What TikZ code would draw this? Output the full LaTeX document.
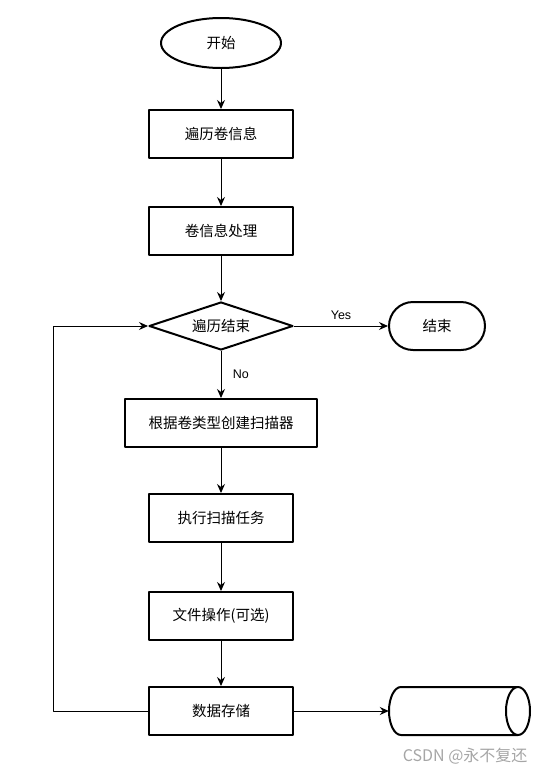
\documentclass[tikz,border=0pt]{standalone}
\usepackage{fontspec}
\setmainfont{Liberation Sans}
\newfontfamily\cjk{Noto Sans CJK SC}
\usetikzlibrary{shapes.geometric,arrows.meta}
\tikzset{
  box/.style={draw,line width=2pt,minimum width=144pt,minimum height=48pt,font=\cjk\fontsize{14.5pt}{17pt}\selectfont},
  term/.style={box,ellipse,minimum width=120pt,minimum height=50pt},
  stopbox/.style={box,rounded corners=24pt,minimum width=96pt},
  test/.style={box,diamond,aspect=3,inner sep=0pt,minimum height=48pt},
  line/.style={line width=1pt,->}
}
\begin{document}
\begin{tikzpicture}[x=1pt,y=-1pt,line join=round,>={Stealth[length=9pt,width=8pt,inset=3pt]}]
				\useasboundingbox (0,0) rectangle (544,774);
				\node[term] (start) at (221,43) {开始};
				\node[box] (trav) at (221,134) {遍历卷信息};
				\node[box] (proc) at (221,231) {卷信息处理};
				\node[test] (check) at (221,326) {遍历结束};
				\node[stopbox] (stop) at (437,326) {结束};
				\node[box,minimum width=192pt] (scan) at (221,423) {根据卷类型创建扫描器};
				\node[box] (exec) at (221,518) {执行扫描任务};
				\node[box] (file) at (221,616) {文件操作(可选)};
				\node[box] (store) at (221,711) {数据存储};
				% storage drum
				\node[minimum width=141pt,minimum height=48pt,inner sep=0pt] (disk) at (459.5,711) {};
				\draw[line width=2pt] (401,687)--(518,687) (401,735)--(518,735)
				(401,687) arc[start angle=270,end angle=90,x radius=12,y radius=24]
				(518,711) ellipse[x radius=12,y radius=24];
				\coordinate (back) at (53,711);
				\draw[line] (start)--(trav);
				\draw[line] (trav)--(proc);
				\draw[line] (proc)--(check);
				\draw[line] (check)--(stop) node[pos=0.5,above=3pt,font=\fontsize{12.5pt}{14pt}\selectfont]{Yes};
				\draw[line] (check)--(scan) node[pos=0.5,right=8pt,font=\fontsize{12.5pt}{14pt}\selectfont]{No};
				\draw[line] (scan)--(exec);
				\draw[line] (exec)--(file);
				\draw[line] (file)--(store);
				\draw[line] (store)--(disk);
				\draw[line] (store.west)--(back)|-(check.west);
				\node[text=black!35,font=\cjk\fontsize{16pt}{18pt}\selectfont,anchor=east] (mark) at (531,756) {CSDN @永不复还};
			\end{tikzpicture}
\end{document}
